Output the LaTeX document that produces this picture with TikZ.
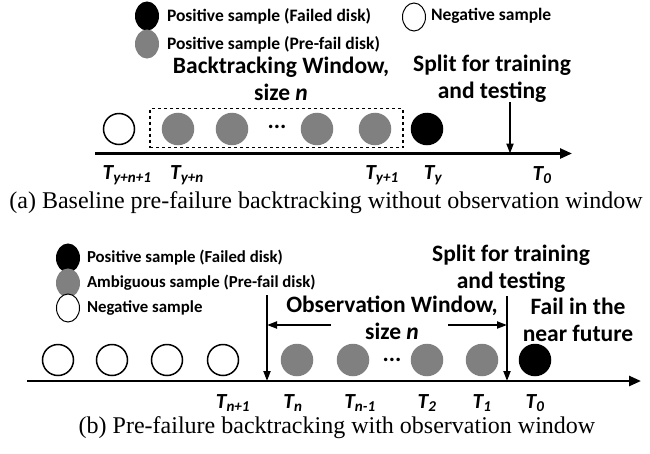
\documentclass[tikz,border=0pt]{standalone}
\usepackage{fontspec}
\setmainfont{Liberation Serif}
\newfontfamily\labfont{Carlito}
\usetikzlibrary{arrows.meta,shapes.geometric}

\begin{document}
\begin{tikzpicture}[x=1pt,y=-1pt,
    every node/.style={inner sep=0pt,outer sep=0pt},
    smp/.style={circle,draw,line width=1.5pt,minimum size=31pt},
    neg/.style={smp,fill=white},
    amb/.style={smp,draw=gray,fill=gray},
    failed/.style={smp,fill=black},
    leg/.style={ellipse,draw,line width=1pt,minimum width=23pt,minimum height=28pt},
    legtext/.style={anchor=west,font=\labfont\bfseries\fontsize{17.5}{20}\selectfont},
    legsmall/.style={legtext,font=\labfont\bfseries\fontsize{16.8}{20}\selectfont},
    big/.style={align=center,font=\labfont\bfseries\fontsize{23.5}{27}\selectfont},
    gap/.style={font=\labfont\bfseries\fontsize{23.5}{27}\selectfont},
    tlab/.style={font=\labfont\bfseries\itshape\fontsize{21.5}{24}\selectfont},
    axisline/.style={line width=2.5pt,-{Triangle[length=12pt,width=10pt]}},
    cutline/.style={line width=2pt,-{Triangle[length=10pt,width=7pt]}},
    capt/.style={font=\fontsize{24}{28}\selectfont}]
  \useasboundingbox (0,0) rectangle (650,453);

  % (a) baseline
  \node[leg,fill=black] (la1) at (147,16) {};
  \node[legtext] (ta1) at (167,16) {Positive sample (Failed disk)};
  \node[leg,fill=white] (la2) at (414,17) {};
  \node[legtext] (ta2) at (431,16) {Negative sample};
  \node[leg,draw=gray,fill=gray] (la3) at (147,44) {};
  \node[legtext] (ta3) at (167,44) {Positive sample (Pre-fail disk)};

  \node[big] (bw) at (281,79) {Backtracking Window,\\size \textit{n}};
  \node[big] (sa) at (492,79) {Split for training\\and testing};

  \node[draw,dashed,line width=1.3pt,minimum width=253pt,minimum height=39pt] (win) at (276.5,128) {};
  \node[neg] (a0) at (119,129) {};
  \node[amb] (a1) at (178,129) {};
  \node[amb] (a2) at (232,129) {};
  \node[gap] (ad) at (277,127) {...};
  \node[amb] (a3) at (317,129) {};
  \node[amb] (a4) at (375,129) {};
  \node[failed] (a5) at (427,129) {};

  \coordinate (as) at (95,153.5);
  \coordinate (ae) at (572,153.5);
  \coordinate (ac) at (510,102);
  \draw[axisline] (as) -- (ae);
  \draw[cutline] (ac) -- (ac |- as);

  \node[tlab] (xa0) at (127,175) {T\textsubscript{y+n+1}};
  \node[tlab] (xa1) at (187,175) {T\textsubscript{y+n}};
  \node[tlab] (xa4) at (382,175) {T\textsubscript{y+1}};
  \node[tlab] (xa5) at (433,175) {T\textsubscript{y}};
  \node[tlab] (xa6) at (542,175) {T\textsubscript{0}};

  \node[capt] (capa) at (326,203) {(a) Baseline pre-failure backtracking without observation window};

  % (b) with observation window
  \node[leg,fill=black] (lb1) at (68,258) {};
  \node[legsmall] (tb1) at (87,258) {Positive sample (Failed disk)};
  \node[leg,draw=gray,fill=gray] (lb2) at (68,283) {};
  \node[legsmall] (tb2) at (87,283) {Ambiguous sample (Pre-fail disk)};
  \node[leg,fill=white] (lb3) at (68,308) {};
  \node[legsmall] (tb3) at (87,308) {Negative sample};

  \node[big] (sb) at (511,269) {Split for training\\and testing};
  \node[big] (ow) at (392,318) {Observation Window,\\size \textit{n}};
  \node[big] (ff) at (578,320) {Fail in the\\near future};

  \node[neg] (b0) at (58,360) {};
  \node[neg] (b1) at (112,360) {};
  \node[neg] (b2) at (167,360) {};
  \node[neg] (b3) at (223,360) {};
  \node[amb] (b4) at (297,360) {};
  \node[amb] (b5) at (353,360) {};
  \node[gap] (bd) at (392,360) {...};
  \node[amb] (b6) at (427,360) {};
  \node[amb] (b7) at (482,360) {};
  \node[failed] (b8) at (535,360) {};

  \coordinate (bs) at (27,381);
  \coordinate (be) at (641,381);
  \coordinate (bl) at (267,295);
  \coordinate (br) at (507,296);
  \coordinate (wl) at (331,325);
  \coordinate (wr) at (448,325);
  \draw[axisline] (bs) -- (be);
  \draw[cutline] (bl) -- (bl |- bs);
  \draw[cutline] (br) -- (br |- bs);
  \draw[cutline] (wl) -- (wl -| bl);
  \draw[cutline] (wr) -- (wr -| br);

  \node[tlab] (xb3) at (233,403) {T\textsubscript{n+1}};
  \node[tlab] (xb4) at (293,403) {T\textsubscript{n}};
  \node[tlab] (xb5) at (360,403) {T\textsubscript{n-1}};
  \node[tlab] (xb6) at (427,403) {T\textsubscript{2}};
  \node[tlab] (xb7) at (482,403) {T\textsubscript{1}};
  \node[tlab] (xb8) at (535,403) {T\textsubscript{0}};

  \node[capt] (capb) at (337,428) {(b) Pre-failure backtracking with observation window};
\end{tikzpicture}
\end{document}
